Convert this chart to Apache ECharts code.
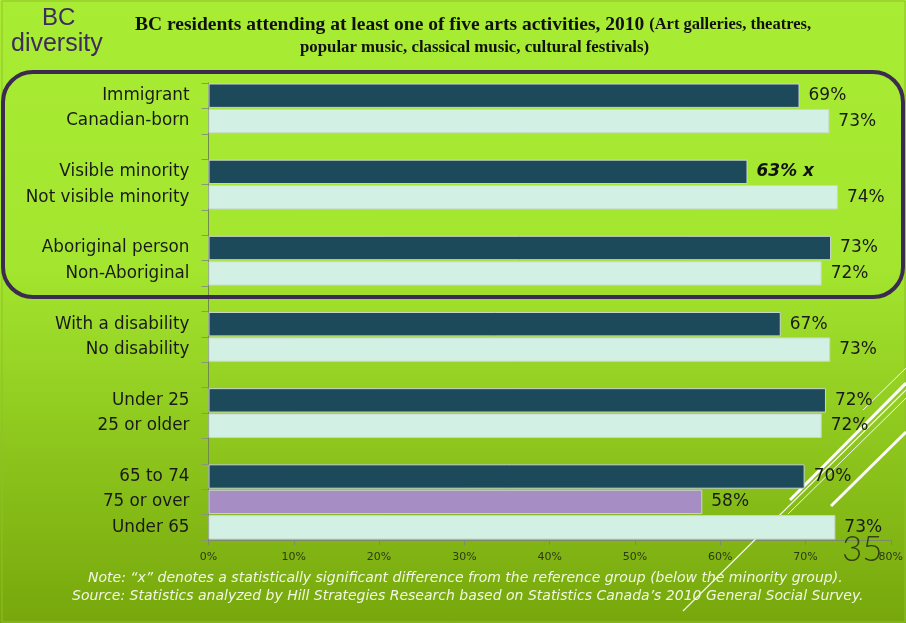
<!DOCTYPE html>
<html>
<head>
<meta charset="utf-8">
<script src="https://cdn.jsdelivr.net/npm/echarts@6/dist/echarts.min.js"></script>
<style>
html,body{margin:0;padding:0;}
#chart{width:906px;height:623px;}
</style>
</head>
<body>
<div id="chart"></div>
<script>
// ---- data ----
var categories = ['Immigrant','Canadian-born',' ','Visible minority','Not visible minority','  ','Aboriginal person','Non-Aboriginal','   ','With a disability','No disability','    ','Under 25','25 or older','     ','65 to 74','75 or over','Under 65'];
var values = [69.3, 72.8, null, 63.2, 73.8, null, 73.0, 71.9, null, 67.1, 72.9, null, 72.4, 71.9, null, 69.9, 57.9, 73.5];
var valueLabels = ['69%','73%','','63% x','74%','','73%','72%','','67%','73%','','72%','72%','','70%','58%','73%'];
var groupType = ['minority','reference','','minority','reference','','minority','reference','','minority','reference','','minority','reference','','minority','older','reference'];
var xTicks = ['0%','10%','20%','30%','40%','50%','60%','70%','80%'];

var colors = {minority:'#1c4a5a', reference:'#d3f0e4', older:'#a68dc4'};

var seriesData = values.map(function(v,i){
  if (v === null) return {value: null};
  return {value: v, itemStyle:{color: colors[groupType[i]]}};
});

var chart = echarts.init(document.getElementById('chart'));
var option = {
  backgroundColor: {
    type:'linear', x:0, y:0, x2:0, y2:1,
    colorStops:[{offset:0,color:'#a9ec34'},{offset:0.42,color:'#a4e62f'},{offset:1,color:'#77a70c'}]
  },
  animation:false,
  grid:{left:208.5, right:11, top:83, bottom:83, containLabel:false},
  xAxis:{
    type:'value', min:0, max:80, interval:10,
    axisLine:{show:true, lineStyle:{color:'#7e8a6a', width:1}},
    axisTick:{show:true, length:5, lineStyle:{color:'#7e8a6a'}},
    splitLine:{show:false},
    axisLabel:{
      margin:12, fontFamily:'DejaVu Sans', fontSize:11, color:'#2c3a12',
      formatter:function(v){ return xTicks[Math.round(v/10)]; }
    }
  },
  yAxis:{
    type:'category', inverse:true, data:categories,
    axisLine:{show:true, lineStyle:{color:'#6f8a4a', width:1}},
    axisTick:{show:true, length:7, alignWithLabel:false, lineStyle:{color:'#8a9580'}},
    axisLabel:{margin:19, fontFamily:'DejaVu Sans', fontSize:16.8, color:'#1a1a1a'}
  },
  series:[{
    type:'bar', data:seriesData, barCategoryGap:'4%', z:2,
    itemStyle:{borderColor:'#c9d6cf', borderWidth:1},
    label:{
      show:true, position:'right', distance:9,
      fontFamily:'DejaVu Sans', fontSize:17, color:'#1a1a1a',
      formatter:function(p){
        var t = valueLabels[p.dataIndex];
        if (!t) return '';
        if (t.indexOf('x') >= 0) return '{b|' + t + '}';
        return t;
      },
      rich:{b:{fontFamily:'DejaVu Sans', fontSize:17, fontWeight:'bold', fontStyle:'italic', color:'#111'}}
    }
  }],
  graphic:[
    {type:'rect', z:0, silent:true, shape:{x:2,y:1,width:903,height:621}, style:{fill:'none', stroke:'#8fc02a', lineWidth:1}},
    {type:'line', z:1, silent:true, shape:{x1:906,y1:368,x2:863,y2:410}, style:{stroke:'rgba(255,255,255,0.9)', lineWidth:1}},
    {type:'line', z:1, silent:true, shape:{x1:906,y1:383,x2:790,y2:500}, style:{stroke:'#ffffff', lineWidth:3}},
    {type:'line', z:1, silent:true, shape:{x1:906,y1:390,x2:683,y2:611}, style:{stroke:'rgba(255,255,255,0.9)', lineWidth:1.2}},
    {type:'line', z:1, silent:true, shape:{x1:906,y1:398,x2:788,y2:514}, style:{stroke:'rgba(255,255,255,0.9)', lineWidth:1}},
    {type:'line', z:1, silent:true, shape:{x1:906,y1:432,x2:831,y2:506}, style:{stroke:'#ffffff', lineWidth:3}},
    {type:'rect', z:5, silent:true, shape:{x:3,y:72,width:900,height:225,r:30}, style:{fill:'none', stroke:'#3b2b4f', lineWidth:4}},
    {type:'text', z:5, left:42, top:6, style:{text:'BC', fontFamily:'Liberation Sans', fontSize:24, fill:'#3d2c5c'}},
    {type:'text', z:5, left:11, top:32, style:{text:'diversity', fontFamily:'Liberation Sans', fontSize:25, fill:'#3d2c5c'}},
    {type:'text', z:5, left:135, top:15, style:{
      text:'{a|BC residents attending at least one of five arts activities, 2010 }{b|(Art galleries, theatres,}',
      rich:{a:{fontFamily:'Liberation Serif', fontSize:19.5, fontWeight:'bold', fill:'#111'}, b:{fontFamily:'Liberation Serif', fontSize:16.5, fontWeight:'bold', fill:'#111'}}
    }},
    {type:'text', z:5, left:300, top:39, style:{
      text:'popular music, classical music, cultural festivals)',
      fontFamily:'Liberation Serif', fontSize:16.8, fontWeight:'bold', fill:'#111'
    }},
    {type:'text', z:5, left:842, top:532, style:{text:'35', fontFamily:'Lato', fontSize:35, fontWeight:300, fill:'#34440f'}},
    {type:'text', z:5, left:88, top:571, style:{
      text:'Note: “x” denotes a statistically significant difference from the reference group (below the minority group).',
      fontFamily:'DejaVu Sans', fontSize:14, fontStyle:'italic', fill:'#f2f7e4'
    }},
    {type:'text', z:5, left:72, top:589, style:{
      text:'Source: Statistics analyzed by Hill Strategies Research based on Statistics Canada’s 2010 General Social Survey.',
      fontFamily:'DejaVu Sans', fontSize:14, fontStyle:'italic', fill:'#f2f7e4'
    }}
  ]
};
chart.setOption(option);
</script>
</body>
</html>
